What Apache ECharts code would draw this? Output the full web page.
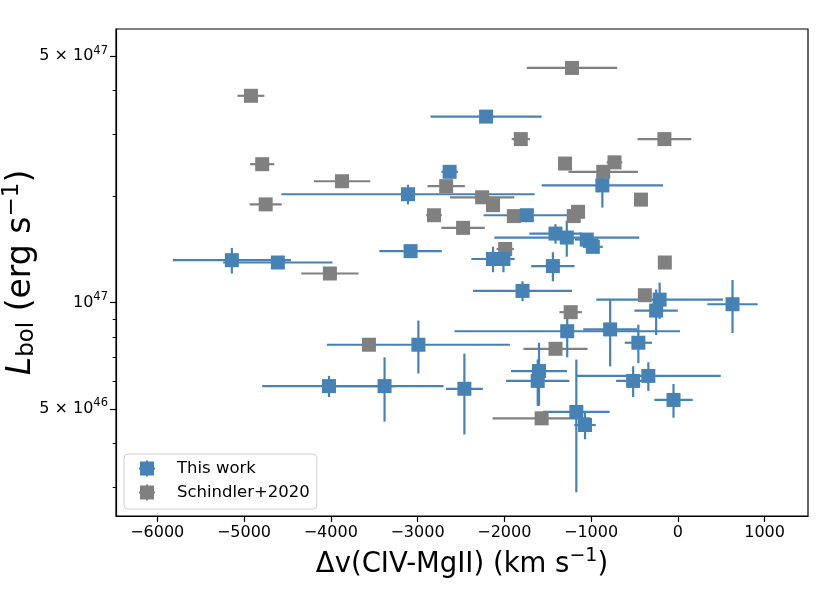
<!DOCTYPE html>
<html>
<head>
<meta charset="utf-8">
<script src="https://cdn.jsdelivr.net/npm/echarts@6/dist/echarts.min.js"></script>
<style>
  html, body { margin: 0; padding: 0; background: #fff; }
  #chart { width: 830px; height: 593px; }
</style>
</head>
<body>
<div id="chart"></div>
<script>
// This work: velocity shift (km/s), its error, bolometric luminosity (erg/s), its error
var workDv     = [-2210, -2630, -3110, -5140, -4610, -3080, -1740, -870, -1410, -1280, -1050, -980, -2130, -2010, -1440, -1790, 630, -210, -250, -1275, -780, -455, -2990, -4020, -3380, -2460, -1600, -1615, -515, -340, -50, -1170, -1070];
var workDvErr  = [640, 95, 1460, 680, 630, 360, 500, 700, 300, 835, 135, 115, 250, 115, 250, 570, 290, 730, 250, 1300, 310, 157, 1055, 770, 680, 213, 323, 364, 196, 834, 221, 384, 124];
var workLbol   = [3.37e47, 2.35e47, 2.03e47, 1.32e47, 1.30e47, 1.40e47, 1.77e47, 2.15e47, 1.57e47, 1.53e47, 1.51e47, 1.44e47, 1.33e47, 1.33e47, 1.27e47, 1.08e47, 0.99e47, 1.02e47, 0.95e47, 0.83e47, 0.84e47, 0.77e47, 0.76e47, 0.58e47, 0.58e47, 0.57e47, 0.64e47, 0.60e47, 0.60e47, 0.62e47, 0.53e47, 0.49e47, 0.45e47];
var workLbolErr = [1.0e46, 0.8e46, 1.3e46, 1.1e46, 0.5e46, 0.5e46, 0.5e46, 2.9e46, 1.0e46, 1.8e46, 0.6e46, 0.5e46, 1.1e46, 1.1e46, 1.2e46, 0.7e46, 1.7e46, 1.2e46, 1.4e46, 1.3e46, 1.8e46, 0.96e46, 1.3e46, 0.4e46, 1.2e46, 1.47e46, 1.3e46, 0.9e46, 0.6e46, 0.58e46, 0.58e46, 2.0e46, 0.4e46];

// Schindler+2020
var schDv    = [-1220, -4920, -1810, -155, -4790, -1300, -730, -860, -3870, -2670, -2255, -2130, -4750, -425, -2810, -1890, -1150, -1200, -2475, -1990, -150, -4010, -380, -1235, -3560, -1410, -1570];
var schDvErr = [520, 155, 105, 310, 140, 0, 90, 400, 325, 215, 370, 0, 185, 0, 90, 0, 0, 0, 250, 100, 0, 330, 0, 130, 0, 370, 565];
var schLbol  = [4.63e47, 3.86e47, 2.91e47, 2.91e47, 2.47e47, 2.48e47, 2.50e47, 2.35e47, 2.21e47, 2.14e47, 1.99e47, 1.89e47, 1.90e47, 1.96e47, 1.77e47, 1.76e47, 1.81e47, 1.76e47, 1.63e47, 1.42e47, 1.30e47, 1.21e47, 1.05e47, 0.94e47, 0.76e47, 0.74e47, 0.47e47];

// axes
var xTicks = [-6000, -5000, -4000, -3000, -2000, -1000, 0, 1000];
var yMajorTicks = [5e46, 1e47, 5e47];
var yMajorLabels = ['{b|5 × 10}{p|46}', '{b|10}{p|47}', '{b|5 × 10}{p|47}'];
var yMinorTicks = [3e46, 4e46, 6e46, 7e46, 8e46, 9e46, 2e47, 3e47, 4e47];

var BLUE = '#4682b4', GREY = '#808080';
var FONT = '"DejaVu Sans", sans-serif';
var lg = Math.log10;

function errData(dv, dvErr, L, LErr){
  return dv.map(function(v, i){
    var e = LErr ? LErr[i] : 0;
    return [v, lg(L[i]), dvErr[i], lg(L[i] - e), lg(L[i] + e)];
  });
}
function pts(dv, L){
  return dv.map(function(v, i){ return [v, lg(L[i])]; });
}
function renderErr(color){
  return function(params, api){
    var x = api.value(0), y = api.value(1), xe = api.value(2);
    var lo = api.value(3), hi = api.value(4);
    var kids = [];
    var st = { stroke: color, lineWidth: 2.2 };
    if (xe > 0) {
      var a = api.coord([x - xe, y]), b = api.coord([x + xe, y]);
      kids.push({ type: 'line', shape: { x1: a[0], y1: a[1], x2: b[0], y2: b[1] }, style: st });
    }
    if (hi > lo) {
      var c = api.coord([x, lo]), d = api.coord([x, hi]);
      kids.push({ type: 'line', shape: { x1: c[0], y1: c[1], x2: d[0], y2: d[1] }, style: st });
    }
    return { type: 'group', children: kids };
  };
}

var chart = echarts.init(document.getElementById('chart'));
var icon = 'path://M1,1H15V15H1Z M0,7H16V9H0Z M7,0H9V16H7Z';
var yMin = 46.3952, yMax = 47.776;

chart.setOption({
  animation: false,
  backgroundColor: '#fff',
  textStyle: { fontFamily: FONT },
  grid: {
    left: 116, right: 22, top: 29, bottom: 77, outerBoundsMode: 'none', containLabel: false,
    show: true, borderColor: '#000', borderWidth: 1.2, backgroundColor: 'transparent'
  },
  legend: {
    data: [{ name: 'This work', icon: icon }, { name: 'Schindler+2020', icon: icon }],
    orient: 'vertical', left: 124, top: 454,
    itemWidth: 16, itemHeight: 16, itemGap: 7,
    padding: [6, 7, 8, 15],
    borderColor: '#d0d0d0', borderWidth: 1, borderRadius: 4,
    backgroundColor: 'rgba(255,255,255,0.8)',
    textStyle: { fontFamily: FONT, fontSize: 16.5, color: '#000', padding: [0, 0, 0, 17] }
  },
  xAxis: {
    type: 'value', min: -6475, max: 1500,
    name: '{n|Δv(CIV-MgII) (km s}{p|−1}{n|)}', nameLocation: 'middle', nameGap: 31, nameMoveOverlap: false,
    nameTextStyle: {
      color: '#000',
      rich: {
        n: { fontFamily: FONT, fontSize: 27.5, color: '#000' },
        p: { fontFamily: FONT, fontSize: 19, color: '#000', padding: [0, 0, 16, 0] }
      }
    },
    axisLine: { onZero: false, lineStyle: { color: '#000', width: 1.2 } },
    axisTick: { customValues: xTicks, length: 6, lineStyle: { color: '#000', width: 1.2 } },
    axisLabel: {
      customValues: xTicks, margin: 9, fontFamily: FONT, fontSize: 16, color: '#000',
      formatter: function(v){ return v < 0 ? '\u2212' + Math.abs(v) : String(v); }
    },
    splitLine: { show: false }
  },
  yAxis: [{
    type: 'value', min: yMin, max: yMax,
    name: '{i|L}{s|bol}{n| (erg s}{p|−1}{n|)}', nameLocation: 'middle', nameGap: 74, nameRotate: 90, nameMoveOverlap: false,
    nameTextStyle: {
      color: '#000',
      rich: {
        i: { fontFamily: FONT, fontSize: 33, fontStyle: 'italic', color: '#000' },
        s: { fontFamily: FONT, fontSize: 23, color: '#000', padding: [12, 0, 0, 0] },
        n: { fontFamily: FONT, fontSize: 33, color: '#000' },
        p: { fontFamily: FONT, fontSize: 23, color: '#000', padding: [0, 0, 18, 0] }
      }
    },
    axisLine: { onZero: false, lineStyle: { color: '#000', width: 1.2 } },
    axisTick: { customValues: yMajorTicks.map(lg), length: 6, lineStyle: { color: '#000', width: 1.2 } },
    axisLabel: {
      customValues: yMajorTicks.map(lg), margin: 8, color: '#000',
      rich: {
        b: { fontFamily: FONT, fontSize: 16, color: '#000' },
        p: { fontFamily: FONT, fontSize: 11.5, color: '#000', padding: [0, 0, 11, 0] }
      },
      formatter: function(v){
        var best = 0;
        yMajorTicks.forEach(function(t, i){ if (Math.abs(lg(t) - v) < Math.abs(lg(yMajorTicks[best]) - v)) best = i; });
        return yMajorLabels[best];
      }
    },
    splitLine: { show: false }
  }, {
    type: 'value', min: yMin, max: yMax, position: 'left',
    axisLine: { show: false, onZero: false },
    axisTick: { customValues: yMinorTicks.map(lg), length: 3.3, lineStyle: { color: '#000', width: 1 } },
    axisLabel: { show: false },
    splitLine: { show: false }
  }],
  series: [
    { type: 'custom', name: 'sch-err', z: 1, silent: true, renderItem: renderErr(GREY), data: errData(schDv, schDvErr, schLbol, null), encode: { x: 0, y: 1 } },
    { type: 'custom', name: 'work-err', z: 1, silent: true, renderItem: renderErr(BLUE), data: errData(workDv, workDvErr, workLbol, workLbolErr), encode: { x: 0, y: 1 } },
    { type: 'scatter', name: 'Schindler+2020', z: 2, symbol: 'rect', symbolSize: 14, itemStyle: { color: GREY, opacity: 1 }, data: pts(schDv, schLbol) },
    { type: 'scatter', name: 'This work', z: 3, symbol: 'rect', symbolSize: 14, itemStyle: { color: BLUE, opacity: 1 }, data: pts(workDv, workLbol) }
  ]
});
</script>
</body>
</html>
